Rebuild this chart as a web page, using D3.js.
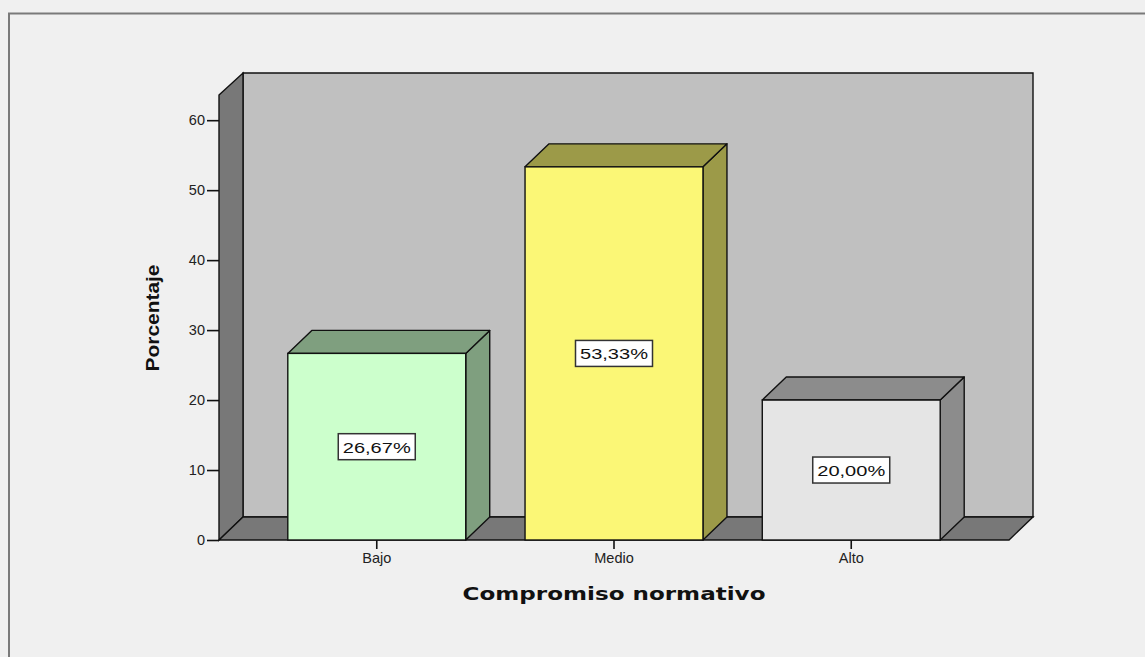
<!DOCTYPE html>
<html>
<head>
<meta charset="utf-8">
<script src="https://cdn.jsdelivr.net/npm/d3@7/dist/d3.min.js"></script>
<style>
  html, body { margin: 0; padding: 0; background: #f0f0f0; }
  svg { display: block; }
</style>
</head>
<body>
<svg id="chart" width="1145" height="657"></svg>
<script>
// Compromiso normativo: distribución porcentual
const categories = ["Bajo", "Medio", "Alto"];
const percentages = [26.67, 53.33, 20.00];
const valueLabels = ["26,67%", "53,33%", "20,00%"];
const yTicks = [0, 10, 20, 30, 40, 50, 60];
const frontColors = ["#ccffcc", "#fbf776", "#e5e5e5"];
const sideColors = ["#7f9f7f", "#9c9a48", "#8c8c8c"];

const svg = d3.select("#chart");
const W = 1145, H = 657;

// outer frame
svg.append("rect").attr("x", 0).attr("y", 0).attr("width", W).attr("height", H).attr("fill", "#f0f0f0");
svg.append("rect")
  .attr("x", 9).attr("y", 13.5).attr("width", W + 20).attr("height", H + 20)
  .attr("fill", "none").attr("stroke", "#7a7a7a").attr("stroke-width", 2);

// plot geometry (front plane)
const x0 = 219, x1 = 1009, yBase = 540, yTop = 95;
const dx = 24, dy = -23;   // depth offset of the 3D box

const y = d3.scaleLinear().domain([0, 63.6]).range([yBase, yTop]);
const x = d3.scaleBand().domain(categories).range([x0, x1]).paddingInner(0.25).paddingOuter(0.29);

const stroke = "#111";
const sw = 1.4;
const poly = pts => pts.map(p => p.join(",")).join(" ");

// back wall
svg.append("polygon")
  .attr("points", poly([[x0 + dx, yTop + dy + 1], [x1 + dx, yTop + dy + 1], [x1 + dx, yBase + dy], [x0 + dx, yBase + dy]]))
  .attr("fill", "#c0c0c0").attr("stroke", stroke).attr("stroke-width", sw);
// left wall
svg.append("polygon")
  .attr("points", poly([[x0, yTop], [x0 + dx, yTop + dy + 1], [x0 + dx, yBase + dy], [x0, yBase]]))
  .attr("fill", "#787878").attr("stroke", stroke).attr("stroke-width", sw);
// floor
svg.append("polygon")
  .attr("points", poly([[x0, yBase], [x0 + dx, yBase + dy], [x1 + dx, yBase + dy], [x1, yBase]]))
  .attr("fill", "#787878").attr("stroke", stroke).attr("stroke-width", sw);

// bars
const bars = svg.append("g").selectAll("g").data(categories).join("g");
bars.each(function (c, i) {
  const g = d3.select(this);
  const bx = x(c), bw = x.bandwidth(), top = y(percentages[i]);
  // right side
  g.append("polygon")
    .attr("points", poly([[bx + bw, top], [bx + bw + dx, top + dy], [bx + bw + dx, yBase + dy], [bx + bw, yBase]]))
    .attr("fill", sideColors[i]).attr("stroke", stroke).attr("stroke-width", sw).attr("stroke-linejoin", "round");
  // top face
  g.append("polygon")
    .attr("points", poly([[bx, top], [bx + dx, top + dy], [bx + bw + dx, top + dy], [bx + bw, top]]))
    .attr("fill", sideColors[i]).attr("stroke", stroke).attr("stroke-width", sw).attr("stroke-linejoin", "round");
  // front face
  g.append("rect")
    .attr("x", bx).attr("y", top).attr("width", bw).attr("height", yBase - top)
    .attr("fill", frontColors[i]).attr("stroke", stroke).attr("stroke-width", sw);
  // value label in a box at mid-height
  const cy = y(percentages[i] / 2), cx = bx + bw / 2;
  g.append("rect")
    .attr("x", cx - 38.5).attr("y", cy - 13).attr("width", 77).attr("height", 26)
    .attr("fill", "#ffffff").attr("stroke", "#333").attr("stroke-width", 1.5);
  g.append("text")
    .attr("x", cx).attr("y", cy + 6)
    .attr("text-anchor", "middle")
    .attr("font-family", "Liberation Sans, Arial, sans-serif")
    .attr("font-size", 15.5)
    .attr("textLength", 68).attr("lengthAdjust", "spacingAndGlyphs")
    .attr("fill", "#111")
    .text(valueLabels[i]);
});

// y axis
const yAxis = d3.axisLeft(y).tickValues(yTicks).tickSize(12).tickPadding(2).tickFormat(d3.format("d"));
const ya = svg.append("g").attr("transform", `translate(${x0},0)`).call(yAxis);
ya.select(".domain").remove();
ya.selectAll(".tick line").attr("stroke", "#111").attr("stroke-width", 1.6);
ya.selectAll(".tick text")
  .attr("font-family", "Liberation Sans, Arial, sans-serif").attr("font-size", 14.5).attr("fill", "#222");

// x axis
const xAxis = d3.axisBottom(x).tickSize(9).tickPadding(4);
const xa = svg.append("g").attr("transform", `translate(0,${yBase})`).call(xAxis);
xa.select(".domain").remove();
xa.selectAll(".tick line").attr("stroke", "#111").attr("stroke-width", 1.6);
xa.selectAll(".tick text")
  .attr("font-family", "Liberation Sans, Arial, sans-serif").attr("font-size", 14.5).attr("fill", "#222");

// axis titles
svg.append("text")
  .attr("transform", "translate(159,318) rotate(-90)")
  .attr("text-anchor", "middle")
  .attr("font-family", "Liberation Sans, Arial, sans-serif")
  .attr("font-weight", "bold").attr("font-size", 19)
  .attr("textLength", 107).attr("lengthAdjust", "spacingAndGlyphs")
  .attr("fill", "#111")
  .text("Porcentaje");

svg.append("text")
  .attr("x", 614).attr("y", 600)
  .attr("text-anchor", "middle")
  .attr("font-family", "DejaVu Sans, Verdana, sans-serif")
  .attr("font-weight", "bold").attr("font-size", 18)
  .attr("textLength", 303).attr("lengthAdjust", "spacingAndGlyphs")
  .attr("fill", "#111")
  .text("Compromiso normativo");
</script>
</body>
</html>
